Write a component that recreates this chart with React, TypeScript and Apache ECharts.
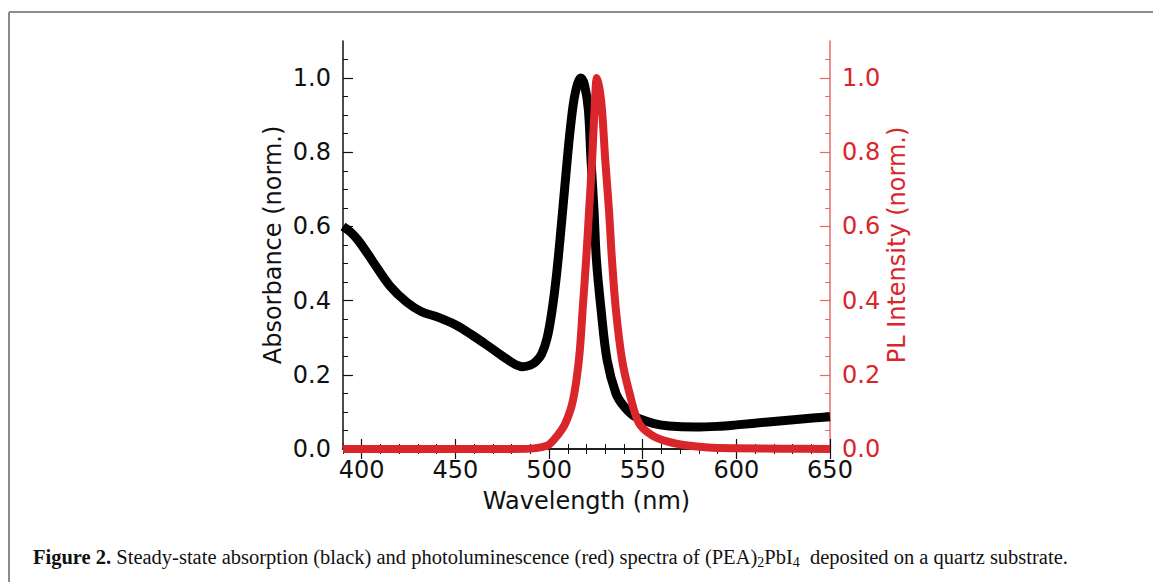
import React, { useEffect, useRef } from "react";
import * as echarts from "echarts";

// Absorbance (black) spectrum: [wavelength nm, normalised absorbance]
const absWavelength = [390, 394, 398, 402, 406, 415, 424, 432, 441, 450, 459, 468, 477, 482, 486, 490, 493, 496, 499, 501.5, 504, 506.5, 509, 511.5, 514, 517, 519, 521, 522.4, 524, 525.3, 527.8, 531, 535.7, 540, 546, 555, 564, 578, 590, 600, 617, 635, 650];
const absValue = [0.6, 0.585, 0.563, 0.535, 0.505, 0.44, 0.396, 0.37, 0.355, 0.335, 0.307, 0.276, 0.244, 0.228, 0.222, 0.226, 0.236, 0.255, 0.3, 0.37, 0.47, 0.6, 0.74, 0.87, 0.96, 1.0, 0.98, 0.914, 0.78, 0.644, 0.51, 0.375, 0.24, 0.15, 0.115, 0.087, 0.07, 0.062, 0.059, 0.061, 0.065, 0.073, 0.081, 0.087];

// PL (red) spectrum
const plWavelength = [390, 420, 450, 480, 490, 496, 500, 505, 508, 510, 512, 513.5, 515, 516.5, 518, 519.8, 521.4, 523, 524.3, 525.6, 527, 528.3, 530, 532, 533.6, 535.7, 539, 543, 548, 555, 564, 573, 585, 600, 625, 650];
const plValue = [0, 0, 0, 0, 0.001, 0.005, 0.012, 0.04, 0.062, 0.085, 0.115, 0.15, 0.2, 0.27, 0.38, 0.51, 0.644, 0.78, 0.914, 1.0, 0.97, 0.914, 0.78, 0.644, 0.51, 0.375, 0.24, 0.15, 0.07, 0.037, 0.019, 0.01, 0.004, 0.002, 0.001, 0];

const xMajorTicks = [400, 450, 500, 550, 600, 650];
const xMinorTicks = [390, 400, 410, 420, 430, 440, 450, 460, 470, 480, 490, 500, 510, 520, 530, 540, 550, 560, 570, 580, 590, 600, 610, 620, 630, 640, 650];
const yMajorTicks = [0, 0.2, 0.4, 0.6, 0.8, 1.0];
const yMinorTicks = [0, 0.05, 0.1, 0.15, 0.2, 0.25, 0.3, 0.35, 0.4, 0.45, 0.5, 0.55, 0.6, 0.65, 0.7, 0.75, 0.8, 0.85, 0.9, 0.95, 1.0, 1.05];

const X_MIN = 390;
const X_MAX = 650;
const Y_MIN = 0;
const Y_MAX = 1.1;

const RED = "#d9262b";
const RED_SPINE = "#e46a6a";
const FONT = "DejaVu Sans";

export default function App() {
  const ref = useRef<HTMLDivElement>(null);

  useEffect(() => {
    if (!ref.current) return;
    const chart = echarts.init(ref.current, undefined, { renderer: "svg" });

    const absData = absWavelength.map((w, i) => [w, absValue[i]]);
    const plData = plWavelength.map((w, i) => [w, plValue[i]]);

    const baseX = (position: "bottom" | "top") => ({
      type: "value" as const,
      min: X_MIN,
      max: X_MAX,
      position,
      splitLine: { show: false },
    });
    const baseY = (position: "left" | "right") => ({
      type: "value" as const,
      min: Y_MIN,
      max: Y_MAX,
      position,
      splitLine: { show: false },
    });

    chart.setOption({
      animation: false,
      backgroundColor: "#ffffff",
      grid: { left: 343, top: 41, right: 323, bottom: 133, containLabel: false },
      xAxis: [
        {
          ...baseX("bottom"),
          axisLine: { show: true, lineStyle: { color: "#111", width: 1.5 } },
          axisTick: { show: true, inside: true, length: 10, customValues: xMajorTicks, lineStyle: { color: "#111", width: 1.2 } },
          axisLabel: { show: true, customValues: xMajorTicks, fontFamily: FONT, fontSize: 24, color: "#111", margin: 9 },
          name: "Wavelength (nm)",
          nameLocation: "middle",
          nameGap: 40,
          nameTextStyle: { fontFamily: FONT, fontSize: 24, color: "#111" },
        },
        {
          ...baseX("bottom"),
          axisLine: { show: false },
          axisTick: { show: true, inside: true, length: 5, customValues: xMinorTicks, lineStyle: { color: "#111", width: 1 } },
          axisLabel: { show: false },
        },
        {
          ...baseX("top"),
          axisLine: { show: true, lineStyle: { color: "#111", width: 1.5 } },
          axisTick: { show: true, inside: true, length: 10, customValues: xMajorTicks, lineStyle: { color: "#111", width: 1.2 } },
          axisLabel: { show: false },
        },
        {
          ...baseX("top"),
          axisLine: { show: false },
          axisTick: { show: true, inside: true, length: 5, customValues: xMinorTicks, lineStyle: { color: "#111", width: 1 } },
          axisLabel: { show: false },
        },
      ],
      yAxis: [
        {
          ...baseY("left"),
          axisLine: { show: true, lineStyle: { color: "#111", width: 1.5 } },
          axisTick: { show: true, inside: true, length: 10, customValues: yMajorTicks, lineStyle: { color: "#111", width: 1.2 } },
          axisLabel: {
            show: true,
            customValues: yMajorTicks,
            fontFamily: FONT,
            fontSize: 24,
            color: "#111",
            margin: 12,
            formatter: (v: number) => v.toFixed(1),
          },
          name: "Absorbance (norm.)",
          nameLocation: "middle",
          nameGap: 58,
          nameRotate: 90,
          nameTextStyle: { fontFamily: FONT, fontSize: 24, color: "#111" },
        },
        {
          ...baseY("left"),
          axisLine: { show: false },
          axisTick: { show: true, inside: true, length: 5, customValues: yMinorTicks, lineStyle: { color: "#111", width: 1 } },
          axisLabel: { show: false },
        },
        {
          ...baseY("right"),
          axisLine: { show: true, lineStyle: { color: RED_SPINE, width: 1.5 } },
          axisTick: { show: true, inside: true, length: 10, customValues: yMajorTicks, lineStyle: { color: RED_SPINE, width: 1.2 } },
          axisLabel: {
            show: true,
            customValues: yMajorTicks,
            fontFamily: FONT,
            fontSize: 24,
            color: RED,
            margin: 12,
            formatter: (v: number) => v.toFixed(1),
          },
          name: "PL Intensity (norm.)",
          nameLocation: "middle",
          nameGap: 55,
          nameRotate: 90,
          nameTextStyle: { fontFamily: FONT, fontSize: 24, color: RED },
        },
        {
          ...baseY("right"),
          axisLine: { show: false },
          axisTick: { show: true, inside: true, length: 5, customValues: yMinorTicks, lineStyle: { color: RED_SPINE, width: 1 } },
          axisLabel: { show: false },
        },
      ],
      series: [
        {
          type: "line",
          name: "Absorbance",
          xAxisIndex: 0,
          yAxisIndex: 0,
          data: absData,
          showSymbol: false,
          symbol: "none",
          smooth: 0.35,
          clip: true,
          lineStyle: { color: "#000", width: 9, join: "round", cap: "butt" },
          z: 2,
        },
        {
          type: "line",
          name: "PL",
          xAxisIndex: 0,
          yAxisIndex: 2,
          data: plData,
          showSymbol: false,
          symbol: "none",
          smooth: 0.35,
          clip: true,
          lineStyle: { color: RED, width: 8, join: "round", cap: "butt" },
          z: 3,
        },
      ],
      graphic: [
        { type: "line", shape: { x1: 9, y1: 12, x2: 1153, y2: 12 }, style: { stroke: "#8c8c8c", lineWidth: 2 } },
        { type: "line", shape: { x1: 9, y1: 12, x2: 9, y2: 582 }, style: { stroke: "#8c8c8c", lineWidth: 2 } },
        {
          type: "text",
          left: 33,
          top: 544,
          style: {
            text: "{b|Figure 2.} Steady-state absorption (black) and photoluminescence (red) spectra of (PEA){s|2}PbI{s|4}  deposited on a quartz substrate.",
            fontFamily: "Liberation Serif",
            fontSize: 20.5,
            lineHeight: 25,
            fill: "#111",
            rich: {
              b: { fontFamily: "Liberation Serif", fontSize: 20.5, fontWeight: "bold", lineHeight: 25, fill: "#111" },
              s: { fontFamily: "Liberation Serif", fontSize: 14, lineHeight: 14, verticalAlign: "bottom", fill: "#111" },
            },
          },
        },
      ],
    });

    return () => chart.dispose();
  }, []);

  return (
    <div
      ref={ref}
      style={{ position: "absolute", left: 0, top: 0, width: 1153, height: 582, background: "#fff" }}
    />
  );
}
